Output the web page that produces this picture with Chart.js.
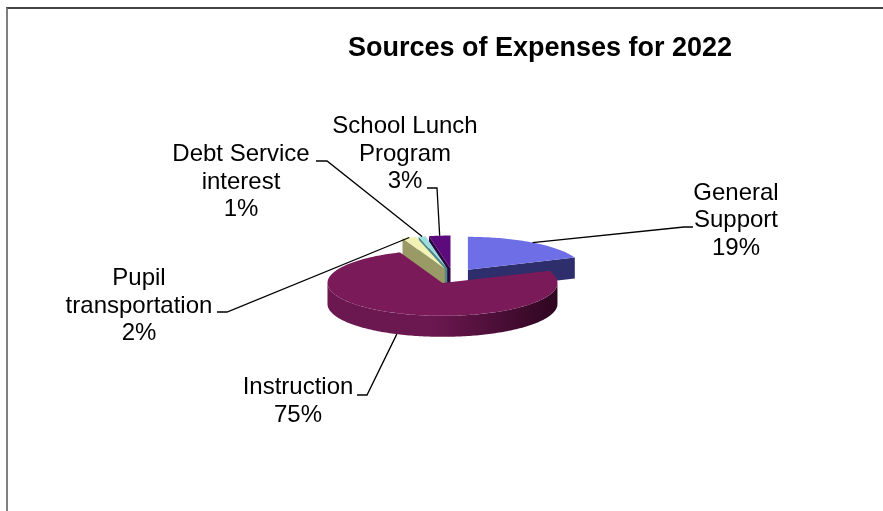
<!DOCTYPE html>
<html>
<head>
<meta charset="utf-8">
<title>Sources of Expenses for 2022</title>
<script src="https://cdn.jsdelivr.net/npm/chart.js@4.4.1/dist/chart.umd.min.js"></script>
<style>
    html, body { margin: 0; padding: 0; background: #fff; }
    #wrap { position: relative; width: 883px; height: 511px; overflow: hidden; }
    #frame { position: absolute; left: 6px; top: 7px; width: 900px; height: 600px;
             border-top: 2px solid #454545; border-left: 2px solid #808080; }
    #expenseChart { position: absolute; left: 0; top: 0; }
</style>
</head>
<body>
<div id="wrap">
    <div id="frame"></div>
    <canvas id="expenseChart" width="883" height="511"></canvas>
</div>
<script>
// chart data
const chartTitle = 'Sources of Expenses for 2022';
const categories = ['General Support', 'Instruction', 'Pupil transportation', 'Debt Service interest', 'School Lunch Program'];
const shares = [19, 75, 2, 1, 3];
const labelLines = [['General', 'Support'], ['Instruction'], ['Pupil', 'transportation'], ['Debt Service', 'interest'], ['School Lunch', 'Program']];

// colours per slice: top face, side face, far end of the curved wall
const topColors = ['#6e6ee6', '#7a1a58', '#f2f2b6', '#9cdede', '#5c0a7c'];
const sideColors = ['#2e2e6c', '#6c1850', '#9a9a66', '#4e8a8a', '#2c0440'];
const wallDarkColors = ['#1c1c48', '#2e0620', '#5e5e3a', '#2e5a5a', '#1a0228'];

// 3d look
const TILT = 0.286;
const DEPTH = 21;
const EXPLODE = 26.5;
const FONT = '"Liberation Sans", Arial, sans-serif';

// where each label block sits (centre x, first baseline) and its leader elbow
const labelLayout = [
    { x: 736, y: 199.5, from: [693, 227], knee: [684, 227] },
    { x: 298, y: 394, from: [357, 395], knee: [367, 395] },
    { x: 139, y: 285, from: [217, 312], knee: [227, 312] },
    { x: 241, y: 161, from: [316, 161], knee: [327, 161] },
    { x: 405, y: 133, from: [427, 188], knee: [437, 188] }
];

function proj(cy, ux, uy, dz) {
    return [ux, cy + (uy - cy) * TILT + (dz || 0)];
}

function arcPoints(cy, ox, oy, r, a, b, dz) {
    const n = Math.max(2, Math.ceil(Math.abs(b - a) / 0.02));
    const pts = [];
    for (let j = 0; j <= n; j++) {
        const t = a + (b - a) * j / n;
        pts.push(proj(cy, ox + r * Math.cos(t), oy + r * Math.sin(t), dz));
    }
    return pts;
}

function fillPoly(ctx, pts, fill) {
    ctx.beginPath();
    ctx.moveTo(pts[0][0], pts[0][1]);
    for (let j = 1; j < pts.length; j++) ctx.lineTo(pts[j][0], pts[j][1]);
    ctx.closePath();
    ctx.fillStyle = fill;
    ctx.fill();
}

// geometry of a slice, taken from the arc element chart.js laid out
function sliceGeom(arc) {
    const p = arc.getProps(['x', 'y', 'startAngle', 'endAngle', 'outerRadius']);
    const mid = (p.startAngle + p.endAngle) / 2;
    return {
        cy: p.y,
        ox: p.x + Math.cos(mid) * EXPLODE,
        oy: p.y + Math.sin(mid) * EXPLODE,
        r: p.outerRadius,
        start: p.startAngle,
        end: p.endAngle,
        mid: mid
    };
}

const pie3d = {
    id: 'pie3d',
    beforeDatasetsDraw(chart) {
        const ctx = chart.ctx;
        const arcs = chart.getDatasetMeta(0).data;
        const faces = [];

        arcs.forEach((arc, i) => {
            const g = sliceGeom(arc);
            const apex = [g.ox, g.oy];

            // cut faces
            [[g.start, Math.cos(g.start) < 0], [g.end, Math.cos(g.end) > 0]].forEach(([ang, visible]) => {
                if (!visible) return;
                const ux = g.ox + g.r * Math.cos(ang), uy = g.oy + g.r * Math.sin(ang);
                faces.push({
                    depth: (g.oy + uy) / 2,
                    pts: [proj(g.cy, apex[0], apex[1]), proj(g.cy, ux, uy), proj(g.cy, ux, uy, DEPTH), proj(g.cy, apex[0], apex[1], DEPTH)],
                    fill: sideColors[i]
                });
            });

            // curved outer wall, only the front half shows
            const a = Math.max(g.start, 0), b = Math.min(g.end, Math.PI);
            if (b > a) {
                const top = arcPoints(g.cy, g.ox, g.oy, g.r, a, b, 0);
                const bottom = arcPoints(g.cy, g.ox, g.oy, g.r, b, a, DEPTH);
                const xs = top.map(q => q[0]);
                const grad = ctx.createLinearGradient(Math.min(...xs), 0, Math.max(...xs), 0);
                grad.addColorStop(0, sideColors[i]);
                grad.addColorStop(0.45, sideColors[i]);
                grad.addColorStop(1, wallDarkColors[i]);
                faces.push({ depth: g.oy + g.r, pts: top.concat(bottom), fill: grad });
            }
        });

        faces.sort((f1, f2) => f1.depth - f2.depth);
        faces.forEach(f => fillPoly(ctx, f.pts, f.fill));

        // top faces last
        arcs.forEach((arc, i) => {
            const g = sliceGeom(arc);
            const pts = [proj(g.cy, g.ox, g.oy)].concat(arcPoints(g.cy, g.ox, g.oy, g.r, g.start, g.end, 0));
            fillPoly(ctx, pts, topColors[i]);
        });
        return false;
    },
    afterDraw(chart) {
        const ctx = chart.ctx;
        const arcs = chart.getDatasetMeta(0).data;
        ctx.save();

        ctx.fillStyle = '#000';
        ctx.textAlign = 'center';
        ctx.textBaseline = 'alphabetic';
        ctx.font = 'bold 27px ' + FONT;
        ctx.fillText(chartTitle, 540, 56);

        ctx.font = '24px ' + FONT;
        ctx.strokeStyle = '#000';
        ctx.lineWidth = 1.3;
        arcs.forEach((arc, i) => {
            const g = sliceGeom(arc);
            const lay = labelLayout[i];
            const lines = labelLines[i].concat([shares[i] + '%']);
            lines.forEach((t, j) => ctx.fillText(t, lay.x, lay.y + j * 27.5));

            const front = Math.sin(g.mid) > 0.3;
            const end = proj(g.cy, g.ox + g.r * Math.cos(g.mid), g.oy + g.r * Math.sin(g.mid), front ? DEPTH : 0);
            ctx.beginPath();
            ctx.moveTo(lay.from[0], lay.from[1]);
            ctx.lineTo(lay.knee[0], lay.knee[1]);
            ctx.lineTo(end[0], end[1]);
            ctx.stroke();
        });
        ctx.restore();
    }
};

const expenseChart = new Chart(document.getElementById('expenseChart').getContext('2d'), {
    type: 'pie',
    data: {
        labels: categories,
        datasets: [{
            data: shares,
            backgroundColor: topColors,
            borderWidth: 0,
            radius: 115
        }]
    },
    options: {
        responsive: false,
        animation: false,
        events: [],
        layout: {
            padding: { left: 23, right: 0, top: 41, bottom: 0 }
        },
        plugins: {
            legend: { display: false },
            title: { display: false },
            tooltip: { enabled: false }
        }
    },
    plugins: [pie3d]
});
</script>
</body>
</html>
